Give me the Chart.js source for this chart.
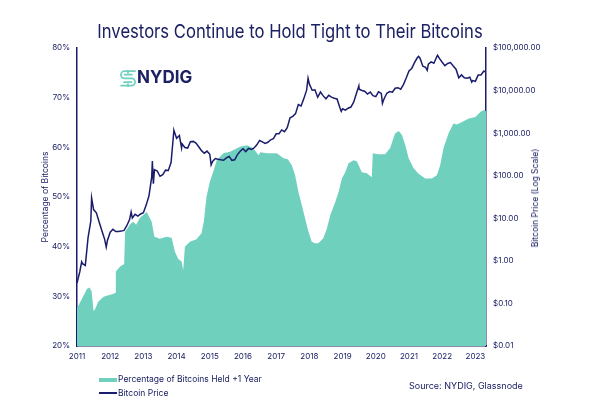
<!DOCTYPE html>
<html>
<head>
<meta charset="utf-8">
<script src="https://cdn.jsdelivr.net/npm/chart.js@4"></script>
<style>
  body { margin: 0; background: #fff; }
  #wrap { position: relative; width: 600px; height: 398px; font-family: Inter, "Noto Sans", sans-serif; color: #1c2164; }
  #chart { position: absolute; left: 0; top: 0; }
  .txt { position: absolute; white-space: nowrap; }
  #title { left: 0; width: 580px; top: 22px; text-align: center; font-size: 19px; line-height: 19px; transform: scaleX(0.875); transform-origin: 290px 0; }
  #logo { left: 120px; top: 70px; }
  #logo span { position: absolute; left: 17px; top: -1px; font-size: 17px; font-weight: 700; line-height: 17px; color: #1c2164; }
  #leg1 { left: 118px; top: 374px; font-size: 8.5px; line-height: 10px; }
  #leg2 { left: 118px; top: 388px; font-size: 8.5px; line-height: 10px; }
  #src { left: 409px; top: 381px; font-size: 9px; line-height: 10px; }
  #rtitle { left: 535px; top: 198px; font-size: 8.5px; line-height: 10px; transform: translate(-50%, -50%) rotate(-90deg); }
  .sw { position: absolute; left: 99px; width: 18px; }
</style>
</head>
<body>
<div id="wrap">
  <canvas id="chart" width="600" height="398"></canvas>
  <div class="txt" id="title">Investors Continue to Hold Tight to Their Bitcoins</div>
  <div class="txt" id="logo">
    <svg width="16" height="17" viewBox="0 0 16 17">
      <g fill="none" stroke="#6fd0be" stroke-width="1.7" stroke-linecap="round">
        <path d="M15 1.2 H4.5 A3.6 3.6 0 0 0 4.5 8.4 H11.5 A3.6 3.6 0 0 1 11.5 15.6 H1"/>
        <path d="M12 4.6 H4.5 M4 12.2 H11.5"/>
        <path d="M8 0.5 V3 M8 14 V16.5"/>
      </g>
    </svg>
    <span>NYDIG</span>
  </div>
  <div class="txt" id="rtitle">Bitcoin Price (Log Scale)</div>
  <div class="sw" style="top:378px;height:4px;background:#6fd0be"></div>
  <div class="txt" id="leg1">Percentage of Bitcoins Held +1 Year</div>
  <div class="sw" style="top:392px;height:1.6px;background:#1a1d6b"></div>
  <div class="txt" id="leg2">Bitcoin Price</div>
  <div class="txt" id="src">Source: NYDIG, Glassnode</div>
</div>
<script>
// Bitcoin price, start of each month from Jan 2011 (USD)
const priceMonthly = [
  0.30, 0.55, 0.86, 0.78, 3.5, 8.7, 16, 13.4, 8.2, 5.1, 3.2, 3.0,
  4.7, 5.5, 4.9, 4.9, 5.0, 5.2, 6.7, 9.3, 10.2, 12.4, 11.2, 12.6,
  13.5, 20.4, 33.4, 93, 139, 129, 97, 106, 135, 133, 203, 1130,
  757, 880, 560, 460, 447, 628, 640, 585, 480, 388, 338, 378,
  320, 217, 254, 244, 236, 230, 263, 284, 230, 236, 313, 377,
  430, 369, 437, 416, 448, 531, 673, 624, 575, 609, 698, 742,
  963, 970, 1190, 1080, 1350, 2300, 2480, 2875, 4700, 4340, 6470, 10230,
  14150, 10200, 10400, 6970, 9240, 7500, 6400, 7730, 7030, 6630, 6370, 4020,
  3740, 3460, 3850, 4100, 5320, 8570, 10800, 10080, 9630, 8290, 9200, 7570,
  7190, 9350, 8600, 6440, 8660, 9460, 9140, 11350, 11680, 10780, 13800, 19700,
  29000, 33100, 45200, 58800, 57700, 37300, 35000, 41600, 47100, 43800, 61300, 57000,
  46300, 38500, 43200, 45500, 37700, 31800, 19900, 23300, 20000, 19400, 20500, 17200,
  16500, 23100, 23100, 28500
];
// intra-month highs and lows visible on the line
const priceExtraYears  = [2011.14, 2011.44, 2011.88, 2012.63, 2013.27, 2013.30, 2013.92, 2014.15, 2015.04, 2017.96, 2018.96, 2019.49, 2020.20, 2021.29, 2021.55, 2021.86, 2022.89, 2023.32];
const priceExtraValues = [0.95,    30,      2.1,     14,      220,     65,      1150,    450,     180,     19500,   3250,    12900,   5000,    63500,   30000,   67500,   15800,   27600];

// share of bitcoin supply unmoved for more than a year (%)
const pctYears = [
  2011.00, 2011.15, 2011.30, 2011.38, 2011.44, 2011.50, 2011.55, 2011.64, 2011.80, 2011.95,
  2012.10, 2012.16, 2012.17, 2012.30, 2012.42, 2012.45, 2012.60, 2012.70, 2012.78, 2012.90,
  2013.10, 2013.25, 2013.33, 2013.50, 2013.70, 2013.85, 2013.95, 2014.05, 2014.15, 2014.20,
  2014.25, 2014.40, 2014.60, 2014.75, 2014.82, 2014.90, 2015.00, 2015.10, 2015.21, 2015.41,
  2015.61, 2015.91, 2016.12, 2016.31, 2016.47, 2016.52, 2016.72, 2017.02, 2017.22, 2017.35,
  2017.47, 2017.57, 2017.67, 2017.77, 2017.87, 2017.96, 2018.07, 2018.17, 2018.27, 2018.42,
  2018.53, 2018.63, 2018.78, 2018.88, 2018.98, 2019.08, 2019.18, 2019.33, 2019.43, 2019.58,
  2019.73, 2019.88, 2019.91, 2020.08, 2020.28, 2020.43, 2020.58, 2020.69, 2020.79, 2020.89,
  2020.99, 2021.14, 2021.29, 2021.49, 2021.69, 2021.84, 2021.94, 2022.04, 2022.19, 2022.34,
  2022.44, 2022.60, 2022.80, 2023.00, 2023.15, 2023.25, 2023.32
];
const pctValues = [
  27.6, 29.5, 31.5, 31.8, 31.0, 27.0, 27.5, 28.9, 29.9, 30.2,
  30.5, 30.7, 35.0, 36.0, 36.5, 43.0, 44.5, 45.0, 44.4, 45.8,
  47.0, 45.0, 42.0, 41.6, 42.0, 41.8, 39.0, 37.5, 37.0, 35.3,
  40.0, 41.0, 41.5, 42.7, 45.0, 50.0, 53.0, 55.0, 57.4, 58.8,
  59.1, 60.1, 60.4, 59.8, 58.4, 59.0, 58.8, 58.8, 57.8, 57.6,
  56.4, 54.4, 51.0, 48.4, 45.7, 43.3, 41.0, 40.7, 40.7, 41.7,
  43.7, 46.4, 49.0, 51.0, 53.7, 55.0, 56.8, 57.4, 57.2, 55.0,
  54.8, 54.0, 58.8, 58.6, 58.6, 59.8, 62.8, 63.3, 62.5, 60.4,
  57.8, 55.8, 54.7, 53.7, 53.7, 54.4, 56.4, 59.8, 62.8, 64.8,
  64.6, 65.1, 65.8, 66.1, 67.1, 67.5, 67.3
];

const pctTicks = [20, 30, 40, 50, 60, 70, 80];
const priceTicks = [0.01, 0.1, 1, 10, 100, 1000, 10000, 100000];
const priceTickLabels = ['$0.01', '$0.10', '$1.00', '$10.00', '$100.00', '$1,000.00', '$10,000.00', '$100,000.00'];
const yearTicks = [2011, 2012, 2013, 2014, 2015, 2016, 2017, 2018, 2019, 2020, 2021, 2022, 2023];

const navy = '#1a1d6b';
const textCol = '#1c2164';
const teal = '#6fd0be';

const pricePoints = priceMonthly.map((v, i) => ({ x: 2011 + i / 12, y: v }))
  .concat(priceExtraYears.map((x, i) => ({ x: x, y: priceExtraValues[i] })))
  .sort((a, b) => a.x - b.x);
const pctPoints = pctYears.map((x, i) => ({ x: x, y: pctValues[i] }));

const tickFont = { family: 'Inter', size: 8 };

new Chart(document.getElementById('chart'), {
  type: 'line',
  data: {
    datasets: [{
      label: 'Bitcoin Price',
      data: pricePoints,
      yAxisID: 'yPrice',
      borderColor: navy,
      borderWidth: 1.5,
      pointRadius: 0,
      tension: 0,
    }, {
      label: 'Percentage of Bitcoins Held +1 Year',
      data: pctPoints,
      yAxisID: 'yPct',
      borderWidth: 0,
      backgroundColor: teal,
      fill: 'start',
      pointRadius: 0,
      tension: 0,
    }]
  },
  options: {
    responsive: false,
    animation: false,
    layout: { padding: { top: 48, left: 0, right: 0, bottom: 0 } },
    plugins: { legend: { display: false }, tooltip: { enabled: false } },
    scales: {
      x: {
        type: 'linear', min: 2011, max: 2023.32,
        grid: { display: false, drawTicks: false },
        border: { display: true, color: navy, width: 1.5 },
        afterBuildTicks: s => { s.ticks = yearTicks.map(v => ({ value: v })); },
        afterFit: s => { s.height = 52; },
        ticks: { color: textCol, font: tickFont, padding: 6, maxRotation: 0, autoSkip: false, callback: v => String(v) }
      },
      yPct: {
        position: 'left', min: 20, max: 80,
        grid: { display: false, drawTicks: false },
        border: { display: true, color: navy, width: 1.5 },
        afterBuildTicks: s => { s.ticks = pctTicks.map(v => ({ value: v })); },
        afterFit: s => { s.width = 77; },
        ticks: { color: textCol, font: tickFont, padding: 7, callback: v => v + '%' },
        title: { display: true, text: 'Percentage of Bitcoins', color: textCol, font: { family: 'Inter', size: 8.5 }, padding: { top: 40, bottom: 0 } }
      },
      yPrice: {
        type: 'logarithmic', position: 'right', min: 0.01, max: 100000,
        grid: { display: false, drawTicks: false },
        border: { display: true, color: navy, width: 1.5 },
        afterBuildTicks: s => { s.ticks = priceTicks.map(v => ({ value: v })); },
        afterFit: s => { s.width = 114; },
        ticks: { color: textCol, font: tickFont, padding: 7, callback: (v, i) => priceTickLabels[i] }
      }
    }
  }
});
</script>
</body>
</html>
